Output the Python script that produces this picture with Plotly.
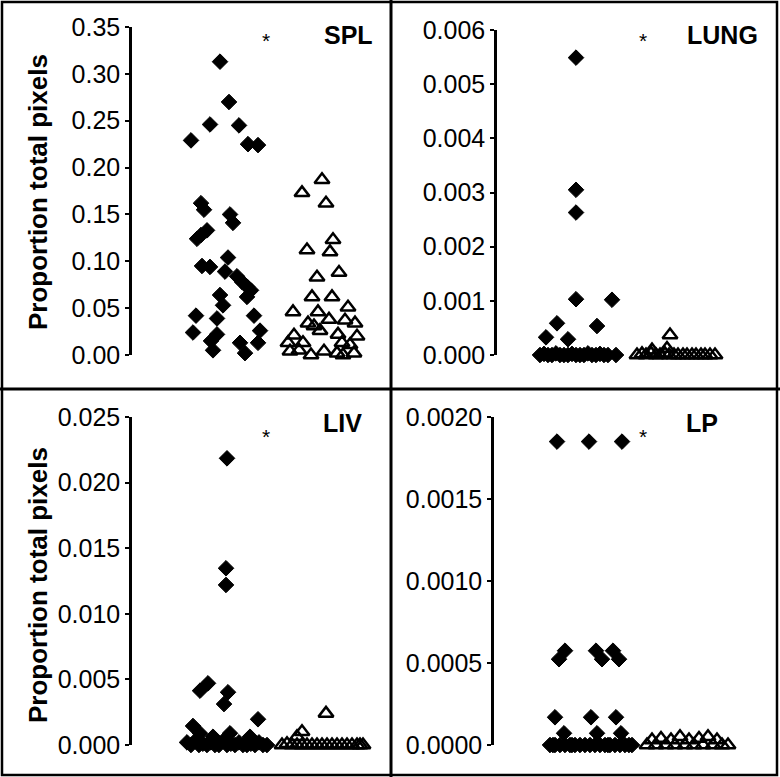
import plotly.graph_objects as go

W, H = 780, 777

# ---------------- DATA ----------------
# Group A = filled diamonds (x = 0 + jitter), Group B = open triangles (x = 1 + jitter)
# SPL
spl_a_y = [0.313, 0.270, 0.246, 0.245, 0.229, 0.225, 0.224, 0.162, 0.155, 0.150, 0.141, 0.133,
           0.128, 0.124, 0.104, 0.095, 0.094, 0.089, 0.084, 0.078, 0.073, 0.069, 0.062, 0.064,
           0.053, 0.042, 0.042, 0.039, 0.026, 0.024, 0.022, 0.015, 0.013, 0.013, 0.005, 0.002]
spl_a_jit = [-0.05, 0.04, -0.15, 0.14, -0.34, 0.23, 0.33, -0.24, -0.21, 0.05, 0.08, -0.18,
             -0.24, -0.28, 0.03, -0.23, -0.15, 0.00, 0.12, 0.17, 0.22, 0.26, 0.22, -0.05,
             -0.02, 0.29, -0.29, -0.08, 0.35, -0.32, -0.08, -0.14, 0.33, 0.15, -0.12, 0.20]
spl_b_y = [0.187, 0.173, 0.162, 0.123, 0.112, 0.110, 0.088, 0.083, 0.062, 0.062, 0.051, 0.046,
           0.046, 0.038, 0.034, 0.037, 0.034, 0.031, 0.026, 0.021, 0.022, 0.020, 0.013, 0.013,
           0.013, 0.011, 0.004, 0.005, 0.000, 0.004, 0.002, 0.000, 0.002]
spl_b_jit = [-0.03, -0.23, 0.01, 0.08, -0.18, 0.05, 0.14, -0.08, -0.13, 0.07, 0.23, -0.32,
             -0.07, 0.04, -0.17, 0.20, 0.30, -0.11, -0.05, -0.31, 0.13, 0.32, -0.37, -0.22,
             0.17, 0.25, -0.35, -0.26, -0.14, -0.01, 0.12, 0.18, 0.29]

# LUNG
lung_a_y = [0.00549, 0.00305, 0.00263, 0.00103, 0.00102, 0.000585, 0.000535, 0.000326, 0.00029,
            0.0, 0.00002, 0.0, 0.0, 0.00003, 0.0, 0.0, 0.0, 0.00002, 0.0,
            0.0, 0.0, 0.00003, 0.0, 0.0, 0.00002, 0.0, 0.0, 0.0]
lung_a_jit = [-0.02, -0.02, -0.02, -0.02, 0.34, -0.21, 0.19, -0.32, -0.10,
              -0.38, -0.34, -0.30, -0.26, -0.22, -0.18, -0.14, -0.10, -0.06, -0.02,
              0.02, 0.06, 0.10, 0.14, 0.18, 0.22, 0.26, 0.30, 0.38]
lung_b_y = [0.000369, 0.00009, 0.00012,
            0.0, 0.00002, 0.0, 0.00003, 0.0, 0.0, 0.00002, 0.0, 0.0,
            0.0, 0.0, 0.0, 0.0, 0.0, 0.0, 0.0, 0.0, 0.0]
lung_b_jit = [-0.08, -0.26, -0.11,
              -0.41, -0.36, -0.32, -0.27, -0.22, -0.18, -0.13, -0.09, -0.04,
              0.00, 0.05, 0.09, 0.14, 0.18, 0.23, 0.27, 0.32, 0.37]

# LIV
liv_a_y = [0.02185, 0.01347, 0.0122, 0.0047, 0.00414, 0.00402, 0.00312, 0.00196, 0.00145,
           0.00089, 0.00063, 0.00089, 0.00063,
           0.0002, 0.0, 0.0003, 0.0, 0.0001, 0.0, 0.0002, 0.0, 0.0, 0.0003, 0.0,
           0.0001, 0.0, 0.0002, 0.0, 0.0, 0.0001, 0.0, 0.0002, 0.0, 0.0]
liv_a_jit = [0.00, -0.01, -0.01, -0.19, -0.27, 0.01, -0.03, 0.31, -0.34,
             -0.27, -0.14, 0.03, 0.23,
             -0.40, -0.36, -0.32, -0.28, -0.24, -0.20, -0.16, -0.12, -0.08, -0.04, 0.00,
             0.04, 0.08, 0.12, 0.16, 0.20, 0.24, 0.28, 0.32, 0.36, 0.40]
liv_b_y = [0.00241, 0.00101, 0.00063,
           0.0, 0.0001, 0.0, 0.0, 0.0, 0.0, 0.0, 0.0, 0.0,
           0.0, 0.0, 0.0, 0.0, 0.0, 0.0, 0.0, 0.0, 0.0]
liv_b_jit = [-0.01, -0.25, -0.30,
             -0.45, -0.40, -0.35, -0.30, -0.25, -0.20, -0.15, -0.10, -0.05,
             0.00, 0.05, 0.10, 0.15, 0.20, 0.25, 0.30, 0.33, 0.36]

# LP
lp_a_y = [0.00185, 0.00185, 0.00185, 0.000575, 0.000523, 0.000575, 0.000523, 0.000575, 0.000523,
          0.000169, 0.000169, 0.000169, 0.0000713, 0.0000713, 0.0000713,
          0.0, 0.0, 0.0, 0.0, 0.0, 0.0, 0.0, 0.0, 0.0, 0.0, 0.0, 0.0, 0.0, 0.0, 0.0,
          0.0, 0.0, 0.0, 0.0, 0.0, 0.0]
lp_a_jit = [-0.34, -0.02, 0.31, -0.26, -0.32, 0.05, 0.11, 0.22, 0.28,
            -0.36, 0.00, 0.25, -0.27, 0.06, 0.30,
            -0.41, -0.36, -0.31, -0.26, -0.21, -0.16, -0.11, -0.06, -0.01, 0.04, 0.09,
            0.14, 0.19, 0.24, 0.29, 0.34, 0.38, 0.41, -0.38, 0.17, -0.19]
lp_b_y = [0.0, 0.00003, 0.0, 0.00004, 0.0, 0.00003, 0.0, 0.00005, 0.0, 0.00003, 0.0,
          0.00004, 0.0, 0.00005, 0.0, 0.00003, 0.0, 0.0]
lp_b_jit = [-0.44, -0.39, -0.35, -0.30, -0.25, -0.20, -0.16, -0.11, -0.06, -0.02, 0.03,
            0.08, 0.12, 0.17, 0.22, 0.26, 0.31, 0.37]

panel_names = ["SPL", "LUNG", "LIV", "LP"]
spl_ticks = [0.00, 0.05, 0.10, 0.15, 0.20, 0.25, 0.30, 0.35]
spl_ticktext = ["0.00", "0.05", "0.10", "0.15", "0.20", "0.25", "0.30", "0.35"]
lung_ticks = [0.000, 0.001, 0.002, 0.003, 0.004, 0.005, 0.006]
lung_ticktext = ["0.000", "0.001", "0.002", "0.003", "0.004", "0.005", "0.006"]
liv_ticks = [0.000, 0.005, 0.010, 0.015, 0.020, 0.025]
liv_ticktext = ["0.000", "0.005", "0.010", "0.015", "0.020", "0.025"]
lp_ticks = [0.0000, 0.0005, 0.0010, 0.0015, 0.0020]
lp_ticktext = ["0.0000", "0.0005", "0.0010", "0.0015", "0.0020"]
y_title = "Proportion total pixels"

# ---------------- LAYOUT GEOMETRY (pixels) ----------------
def px_x(x):
    return x / W

def px_y(y):
    return 1 - y / H

panels = [
    dict(a_y=spl_a_y, a_j=spl_a_jit, b_y=spl_b_y, b_j=spl_b_jit, tv=spl_ticks, tt=spl_ticktext,
         ymax=0.35, x0=132, x1=385, yt=27, yb=355, xz=225, lab=(348, 35), star=(266, 41)),
    dict(a_y=lung_a_y, a_j=lung_a_jit, b_y=lung_b_y, b_j=lung_b_jit, tv=lung_ticks, tt=lung_ticktext,
         ymax=0.006, x0=497, x1=770, yt=30, yb=355, xz=578, lab=(722, 35), star=(643, 41)),
    dict(a_y=liv_a_y, a_j=liv_a_jit, b_y=liv_b_y, b_j=liv_b_jit, tv=liv_ticks, tt=liv_ticktext,
         ymax=0.025, x0=132, x1=385, yt=417, yb=745, xz=227, lab=(342, 423), star=(266, 436)),
    dict(a_y=lp_a_y, a_j=lp_a_jit, b_y=lp_b_y, b_j=lp_b_jit, tv=lp_ticks, tt=lp_ticktext,
         ymax=0.002, x0=494, x1=770, yt=417, yb=745, xz=591, lab=(702, 423), star=(643, 436)),
]

PX_PER_UNIT = 100.0
FONT = "Liberation Sans, Arial, sans-serif"

fig = go.Figure()
layout = dict(
    template="none",
    width=W, height=H, autosize=False, margin=dict(l=0, r=0, t=0, b=0, pad=0),
    paper_bgcolor="white", plot_bgcolor="white", showlegend=False,
    font=dict(family=FONT, color="black"),
)
annotations = []
for i, p in enumerate(panels):
    n = i + 1
    xa = "x" if n == 1 else f"x{n}"
    ya = "y" if n == 1 else f"y{n}"
    xr = [-(p["xz"] - p["x0"]) / PX_PER_UNIT, (p["x1"] - p["xz"]) / PX_PER_UNIT]
    fig.add_trace(go.Scatter(
        x=[0 + j for j in p["a_j"]], y=p["a_y"], mode="markers", xaxis=xa, yaxis=ya,
        cliponaxis=False,
        marker=dict(symbol="diamond", size=12, color="black", line=dict(color="black", width=1)),
    ))
    fig.add_trace(go.Scatter(
        x=[1 + j for j in p["b_j"]], y=p["b_y"], mode="markers", xaxis=xa, yaxis=ya,
        cliponaxis=False,
        marker=dict(symbol="triangle-up-open", size=13, color="black", line=dict(color="black", width=2.5)),
    ))
    xkey = "xaxis" if n == 1 else f"xaxis{n}"
    ykey = "yaxis" if n == 1 else f"yaxis{n}"
    layout[xkey] = dict(domain=[px_x(p["x0"]), px_x(p["x1"])], range=xr, visible=False,
                        anchor=ya, fixedrange=True, automargin=False)
    layout[ykey] = dict(domain=[px_y(p["yb"]), px_y(p["yt"])], range=[0, p["ymax"]],
                        anchor=xa, showline=True, linecolor="black", linewidth=2.5,
                        ticks="outside", ticklen=4, tickwidth=2, tickcolor="black",
                        tickvals=p["tv"], ticktext=p["tt"], showgrid=False, zeroline=False,
                        automargin=False,
                        tickfont=dict(family=FONT, size=25, color="black"))
    annotations.append(dict(text=f"<b>{panel_names[i]}</b>", x=px_x(p["lab"][0]), y=px_y(p["lab"][1]),
                            xref="paper", yref="paper", showarrow=False, xanchor="center",
                            yanchor="middle", font=dict(family=FONT, size=25, color="black")))
    annotations.append(dict(text="*", x=px_x(p["star"][0]), y=px_y(p["star"][1]),
                            xref="paper", yref="paper", showarrow=False, xanchor="center",
                            yanchor="middle", font=dict(family=FONT, size=21, color="black")))

for yc in (192, 585):
    annotations.append(dict(text=f"<b>{y_title}</b>", x=px_x(38), y=px_y(yc), xref="paper",
                            yref="paper", showarrow=False, textangle=-90, xanchor="center",
                            yanchor="middle", font=dict(family=FONT, size=26, color="black")))

shapes = [
    dict(type="rect", xref="paper", yref="paper", x0=px_x(2), x1=px_x(777), y0=px_y(775), y1=px_y(2),
         line=dict(color="black", width=2.5)),
    dict(type="line", xref="paper", yref="paper", x0=px_x(391), x1=px_x(391), y0=0, y1=1,
         line=dict(color="black", width=3)),
    dict(type="line", xref="paper", yref="paper", x0=0, x1=1, y0=px_y(389), y1=px_y(389),
         line=dict(color="black", width=3)),
]
layout["annotations"] = annotations
layout["shapes"] = shapes
fig.update_layout(**layout)
fig.write_html("out.html")
